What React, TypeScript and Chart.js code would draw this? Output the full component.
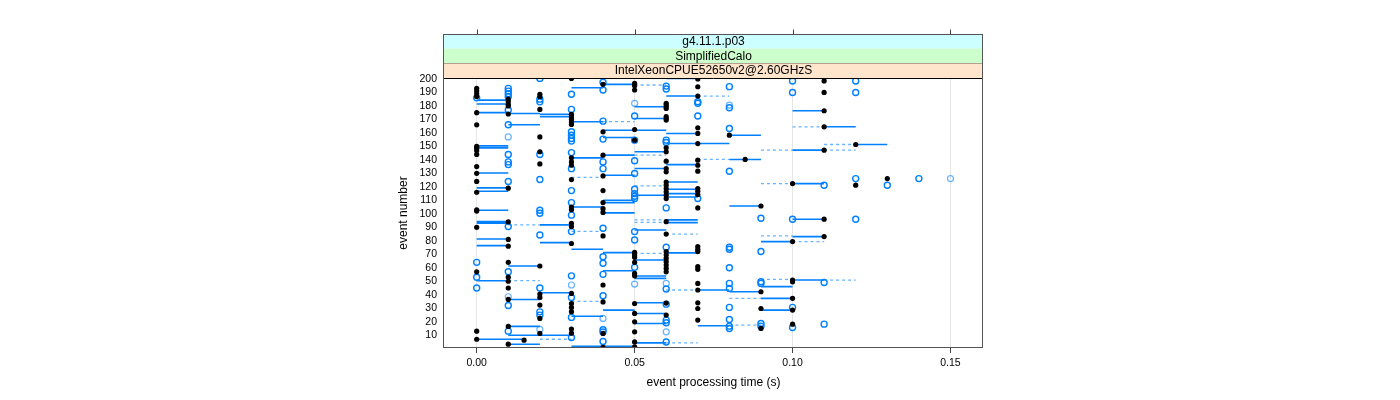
import { useEffect, useRef } from "react";
import { Chart, registerables } from "chart.js";
Chart.register(...registerables);

const FONT = '"Liberation Sans", Arial, Helvetica, sans-serif';

const stripLabels = ["g4.11.1.p03", "SimplifiedCalo", "IntelXeonCPUE52650v2@2.60GHzS"];
const stripColors = ["#CCFFFF", "#CCFFCC", "#FFE5CC"];
const xTickValues = [0, 0.05, 0.1, 0.15];
const xTickLabels = ["0.00", "0.05", "0.10", "0.15"];
const yTickValues = [10, 20, 30, 40, 50, 60, 70, 80, 90, 100, 110, 120, 130, 140, 150, 160, 170, 180, 190, 200];

// time columns (s)
const timeCols = [0, 0.01, 0.015, 0.02, 0.03, 0.04, 0.05, 0.06, 0.07, 0.08, 0.085, 0.09, 0.1, 0.11, 0.12, 0.13, 0.14, 0.15];

// event numbers with a black point, per time column
const blackEvents: number[][] = [
  [193, 191, 189, 187, 175, 166, 150, 149, 147, 144, 135, 130, 124, 116, 103, 102, 90, 57, 13, 7],
  [185, 183, 181, 180, 174, 119, 94, 81, 76, 64, 53, 50, 45, 36.5, 16.5, 3.3],
  [6.3],
  [188.6, 186.8, 177.4, 157, 146, 137, 61.3, 40.5, 38, 32.3, 22.4, 11.3],
  [200.4, 173.7, 172, 170.2, 168.2, 166.3, 141.5, 138.5, 136, 125.4, 105, 103, 93, 90.5, 78, 41, 33.5, 30.6, 27.4, 14.5, 11.5],
  [196, 160.8, 143.5, 128.1, 117.2, 108.3, 103.8, 101, 83.6, 47.2, 34.7, 11.3, 1],
  [196.7, 195, 191.8, 162.5, 154.6, 71.4, 69.5, 67.7, 64, 55.8, 54, 33.5, 26.1, 19.9, 12.5, 5, 1.4],
  [181.9, 180.6, 179.4, 178.1, 172, 170.7, 169.5, 148.9, 146, 139, 133.6, 131.1, 123.6, 121.2, 118.7, 116.3, 113.8, 111.3, 94.2, 85, 72, 69.5, 67, 64.5, 62, 59.5, 57, 33.8, 24.9],
  [200, 194.2, 187.3, 163.8, 159.6, 152.1, 139.8, 136, 131.6, 118.7, 116.7, 114.3, 104.4, 75.7, 73.7, 72, 60.8, 58.8, 48.4, 43.5, 34, 29.8, 21.2],
  [158.3],
  [140.3],
  [105.8, 42.2, 29.8, 15],
  [122.4, 79.4, 50.9, 49.6, 37.3, 28.6, 18.2],
  [198.5, 190, 176.4, 164.5, 147.2, 96, 83.1],
  [151.4, 121.2],
  [126.1],
  [],
  [],
];

// event numbers with a blue open circle, per time column
const blueEvents: number[][] = [
  [186, 64, 53, 45],
  [193, 191, 189, 187, 177, 166, 144, 138.5, 136.5, 124, 90.5, 57, 32, 13],
  [],
  [200.4, 185, 183, 144, 125.4, 102.6, 100.4, 84.3, 45, 27.3, 24.9],
  [188.6, 177.4, 160.8, 158.3, 155.8, 153.9, 145.4, 133.5, 117.2, 108.3, 99, 86.8, 54, 38, 23.2, 8.3],
  [197.5, 191.8, 168.7, 155.4, 138.5, 133.5, 89.3, 68.2, 63.3, 55.1, 39.2, 14, 12.4, 5.3],
  [172.5, 154.6, 139.3, 129.9, 118.2, 115, 113, 111.3, 86.8, 80.6, 60.3],
  [194.7, 192.5, 154.6, 152.9, 104.4, 75.2, 44.2, 33, 21.2, 19.2, 5],
  [183.1, 181.9, 172.5, 111.3],
  [194.3, 178.6, 163.3, 131.6, 75.2, 73.7, 60, 48.4, 44.7, 30.6, 21.6, 16.7, 15],
  [],
  [96.7, 72, 49.6, 48.4, 18.7, 16.7],
  [198.5, 190, 96, 30.6, 15.7],
  [121.2, 49.1, 18.2],
  [198.5, 190, 126.1, 96],
  [121.2],
  [126.1],
  [],
];

// event numbers with a light blue open circle, per time column
const lightBlueEvents: number[][] = [
  [], [157, 38.5], [], [14.3], [47.2], [22.4], [181.9, 47.9], [48.4, 12.5], [], [180.6], [], [], [], [], [], [], [], [126.1],
];

// [start time, end time, event]
const solidSegments: [number, number, number][] = [
  [0, 0.01, 184.3], [0, 0.01, 181.4], [0, 0.01, 175], [0, 0.01, 150.4], [0, 0.01, 148.9], [0, 0.01, 130.3],
  [0, 0.01, 119.2], [0, 0.01, 116.7], [0, 0.01, 102.6], [0, 0.01, 94.2], [0, 0.01, 93], [0, 0.01, 81.3],
  [0, 0.01, 76.4], [0, 0.01, 50.4], [0, 0.015, 7],
  [0.01, 0.02, 174.4], [0.01, 0.02, 166], [0.01, 0.02, 61.3], [0.01, 0.02, 36.5], [0.01, 0.02, 16.5],
  [0.01, 0.02, 3.3], [0.01, 0.03, 10],
  [0.02, 0.03, 173.7], [0.02, 0.03, 172], [0.02, 0.03, 91.8], [0.02, 0.03, 78.6], [0.02, 0.03, 41.5],
  [0.03, 0.04, 193.5], [0.03, 0.04, 168.3], [0.03, 0.04, 141.5], [0.03, 0.04, 105], [0.03, 0.04, 73.7],
  [0.03, 0.04, 24], [0.03, 0.05, 1.8],
  [0.04, 0.05, 196], [0.04, 0.05, 162], [0.04, 0.05, 156.6], [0.04, 0.05, 143.5], [0.04, 0.05, 128.6],
  [0.04, 0.05, 110], [0.04, 0.05, 108.3], [0.04, 0.05, 100.7], [0.04, 0.05, 71.2], [0.04, 0.05, 57.8],
  [0.04, 0.05, 28.6],
  [0.05, 0.06, 179.4], [0.05, 0.06, 170.7], [0.05, 0.06, 162], [0.05, 0.06, 146], [0.05, 0.06, 133.6],
  [0.05, 0.06, 113.8], [0.05, 0.06, 88], [0.05, 0.06, 65.7], [0.05, 0.06, 53.9], [0.05, 0.06, 52.1],
  [0.05, 0.06, 34], [0.05, 0.06, 26.1], [0.05, 0.06, 18.7], [0.05, 0.06, 4.3],
  [0.06, 0.07, 200.4], [0.06, 0.07, 187.3], [0.06, 0.07, 159.6], [0.06, 0.07, 152.1], [0.06, 0.07, 136.5],
  [0.06, 0.07, 123.6], [0.06, 0.07, 118.2], [0.06, 0.07, 115], [0.06, 0.07, 112.5], [0.06, 0.07, 95.5],
  [0.06, 0.07, 93.5], [0.06, 0.07, 71],
  [0.07, 0.08, 152.1], [0.07, 0.08, 43.5], [0.07, 0.08, 17],
  [0.08, 0.09, 158.3], [0.08, 0.09, 140.3], [0.08, 0.09, 105.8], [0.08, 0.09, 42.2],
  [0.09, 0.1, 79.4], [0.09, 0.1, 46], [0.09, 0.1, 37.3], [0.09, 0.1, 28.6],
  [0.1, 0.11, 176.4], [0.1, 0.11, 147.2], [0.1, 0.11, 122.4], [0.1, 0.11, 96], [0.1, 0.11, 83.1], [0.1, 0.11, 50.9],
  [0.11, 0.12, 164.5], [0.12, 0.13, 151.4],
];

const dashedSegments: [number, number, number][] = [
  [0.01, 0.02, 91.8], [0.01, 0.02, 50.4], [0.02, 0.03, 7], [0.03, 0.04, 127], [0.03, 0.04, 87], [0.03, 0.04, 35],
  [0.04, 0.05, 168.3], [0.05, 0.06, 195.5], [0.05, 0.06, 143.5], [0.05, 0.06, 120.7], [0.05, 0.06, 95.5],
  [0.05, 0.06, 93.7], [0.05, 0.06, 70.7], [0.06, 0.07, 85], [0.06, 0.07, 43.5], [0.06, 0.07, 4.3],
  [0.07, 0.08, 187.3], [0.07, 0.08, 140.3], [0.08, 0.09, 37.3], [0.08, 0.09, 17.5], [0.09, 0.1, 147.2],
  [0.09, 0.1, 122.4], [0.09, 0.1, 83.6], [0.09, 0.1, 51.4], [0.1, 0.11, 164.5], [0.1, 0.11, 79.4],
  [0.11, 0.12, 147.2], [0.11, 0.12, 151.4], [0.11, 0.12, 50.9],
];

function pointsFrom(lists: number[][]) {
  const out: { x: number; y: number }[] = [];
  lists.forEach((evs, i) => evs.forEach((e) => out.push({ x: timeCols[i], y: e })));
  return out;
}

function segmentsFrom(segs: [number, number, number][]) {
  const out: { x: number; y: number | null }[] = [];
  segs.forEach(([a, b, e]) => {
    out.push({ x: a, y: e }, { x: b, y: e }, { x: b, y: null });
  });
  return out;
}

const framePlugin = {
  id: "latticeFrame",
  afterDraw(chart: any) {
    const { ctx, chartArea: a, scales } = chart;
    const xs = scales.x;
    const h = 14.7;
    const top = a.top - 3 * h;
    ctx.save();
    ctx.lineWidth = 1;
    stripLabels.forEach((lab, i) => {
      const y0 = top + i * h;
      ctx.fillStyle = stripColors[i];
      ctx.fillRect(a.left, y0, a.right - a.left, h);
      ctx.strokeStyle = "#000";
      ctx.beginPath();
      ctx.moveTo(a.left, Math.round(y0 + h) + 0.5);
      ctx.lineTo(a.right, Math.round(y0 + h) + 0.5);
      ctx.stroke();
      ctx.fillStyle = "#000";
      ctx.font = `12px ${FONT}`;
      ctx.textAlign = "center";
      ctx.textBaseline = "middle";
      ctx.fillText(lab, (a.left + a.right) / 2, y0 + h / 2 + 0.5);
    });
    ctx.strokeStyle = "#555";
    const L = Math.round(a.left) - 0.5;
    const R = Math.round(a.right) - 0.5;
    const T = Math.round(top) + 0.5;
    const B = Math.round(a.bottom) - 0.5;
    ctx.strokeRect(L, T, R - L, B - T);
    ctx.strokeStyle = "#444";
    xTickValues.forEach((v) => {
      const px = Math.round(xs.getPixelForValue(v)) + 0.5;
      ctx.beginPath();
      ctx.moveTo(px, T - 5);
      ctx.lineTo(px, T);
      ctx.stroke();
    });
    ctx.restore();
  },
};

export default function App() {
  const ref = useRef<HTMLCanvasElement | null>(null);
  useEffect(() => {
    if (!ref.current) return;
    const chart = new Chart(ref.current, {
      type: "scatter",
      data: {
        datasets: [
          {
            label: "black",
            data: pointsFrom(blackEvents),
            pointRadius: 2.6,
            pointBorderWidth: 0,
            pointBackgroundColor: "#000",
            pointBorderColor: "#000",
            showLine: false,
          } as any,
          {
            label: "blue",
            data: pointsFrom(blueEvents),
            pointRadius: 3,
            pointBorderWidth: 1.4,
            pointBackgroundColor: "rgba(0,0,0,0)",
            pointBorderColor: "#0080ff",
            showLine: false,
          },
          {
            label: "lightblue",
            data: pointsFrom(lightBlueEvents),
            pointRadius: 3,
            pointBorderWidth: 1.2,
            pointBackgroundColor: "rgba(0,0,0,0)",
            pointBorderColor: "rgba(0,128,255,0.6)",
            showLine: false,
          },
          {
            label: "solid",
            data: segmentsFrom(solidSegments) as any,
            showLine: true,
            spanGaps: false,
            pointRadius: 0,
            borderColor: "#0080ff",
            borderWidth: 1.6,
          },
          {
            label: "dashed",
            data: segmentsFrom(dashedSegments) as any,
            showLine: true,
            spanGaps: false,
            pointRadius: 0,
            borderColor: "rgba(0,128,255,0.6)",
            borderWidth: 1.3,
            borderDash: [3, 3],
          },
        ],
      },
      options: {
        animation: false,
        responsive: false,
        events: [],
        layout: { padding: { left: 390, right: 417, top: 78, bottom: 0 } },
        plugins: { legend: { display: false }, tooltip: { enabled: false } },
        scales: {
          x: {
            type: "linear",
            min: -0.01035,
            max: 0.1603,
            afterFit: (s: any) => {
              s.height = 52;
            },
            afterBuildTicks: (s: any) => {
              s.ticks = xTickValues.map((v) => ({ value: v }));
            },
            grid: {
              color: "#e6e6e6",
              lineWidth: 1,
              drawTicks: true,
              tickLength: 5,
              tickColor: "#444",
            },
            border: { display: false },
            ticks: {
              autoSkip: false,
              maxRotation: 0,
              padding: 4,
              color: "#000",
              font: { family: FONT, size: 10.5 },
              callback: (v: any) => {
                const i = xTickValues.findIndex((t) => Math.abs(t - Number(v)) < 1e-9);
                return i >= 0 ? xTickLabels[i] : "";
              },
            },
            title: {
              display: true,
              text: "event processing time (s)",
              color: "#000",
              font: { family: FONT, size: 12 },
              padding: { top: 0, bottom: 10 },
            },
          },
          y: {
            type: "linear",
            min: 0.5,
            max: 200.7,
            afterFit: (s: any) => {
              s.width = 54;
            },
            afterBuildTicks: (s: any) => {
              s.ticks = yTickValues.map((v) => ({ value: v }));
            },
            grid: { display: false, drawTicks: false },
            border: { display: false },
            ticks: {
              autoSkip: false,
              padding: 7,
              color: "#000",
              font: { family: FONT, size: 10.5 },
              callback: (v: any) => String(v),
            },
            title: {
              display: true,
              text: "event number",
              color: "#000",
              font: { family: FONT, size: 12 },
              padding: { top: 6, bottom: 0 },
            },
          },
        },
      },
      plugins: [framePlugin],
    });
    return () => chart.destroy();
  }, []);
  return (
    <div style={{ position: "absolute", left: 0, top: 0, width: 1400, height: 400, background: "#fff" }}>
      <canvas ref={ref} width={1400} height={400} style={{ display: "block", width: 1400, height: 400 }} />
    </div>
  );
}
